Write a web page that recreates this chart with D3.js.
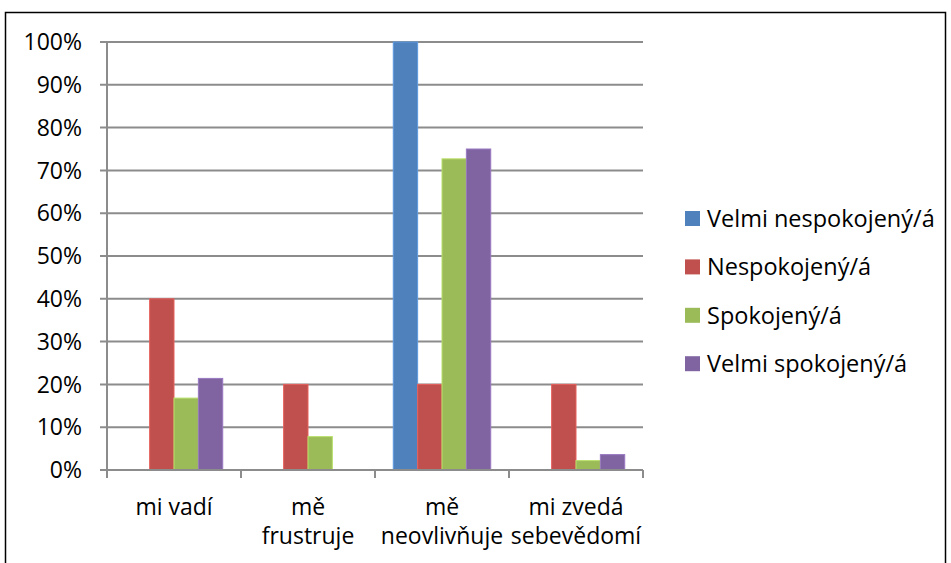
<!DOCTYPE html>
<html>
<head>
<meta charset="utf-8">
<script src="https://cdn.jsdelivr.net/npm/d3@7"></script>
<style>
  html, body { margin: 0; padding: 0; background: #fff; }
  svg { display: block; }
  text { font-family: "Open Sans", Lato, sans-serif; fill: #000; }
</style>
</head>
<body>
<svg id="chart" width="951" height="563"></svg>
<script>
// Answers per category, share of respondents in each satisfaction group
const categories = [["mi vadí"], ["mě", "frustruje"], ["mě", "neovlivňuje"], ["mi zvedá", "sebevědomí"]];
const seriesNames = ["Velmi nespokojený/á", "Nespokojený/á", "Spokojený/á", "Velmi spokojený/á"];
const seriesColors = ["#4F81BD", "#C0504D", "#9BBB59", "#8064A2"];
const velmiNespokojeny = [0, 0, 100, 0];
const nespokojeny = [40, 20, 20, 20];
const spokojeny = [16.8, 7.8, 72.7, 2.2];
const velmiSpokojeny = [21.4, 0, 75, 3.6];
const yTicks = [0, 10, 20, 30, 40, 50, 60, 70, 80, 90, 100];

const series = [velmiNespokojeny, nespokojeny, spokojeny, velmiSpokojeny];

const svg = d3.select("#chart");
const plot = { left: 107, right: 643, top: 42, bottom: 470 };
const fontSize = "23px";
const legendFontSize = "23.5px";

// outer frame
svg.append("rect")
  .attr("x", 5.5).attr("y", 12.5)
  .attr("width", 940).attr("height", 560)
  .attr("fill", "none").attr("stroke", "#000").attr("stroke-width", 1.5);

const x0 = d3.scaleBand()
  .domain(d3.range(categories.length))
  .range([plot.left, plot.right])
  .paddingInner(0).paddingOuter(0);

// Excel-style gap width of 150% => bars occupy 4/5.5 of a category slot
const barW = x0.bandwidth() / 5.5;
const x1 = d3.scaleBand()
  .domain(d3.range(series.length))
  .range([0.75 * barW, 4.75 * barW]);

const y = d3.scaleLinear().domain([0, 100]).range([plot.bottom, plot.top]);

// horizontal gridlines
svg.append("g")
  .selectAll("line")
  .data(yTicks)
  .join("line")
  .attr("x1", plot.left - 7).attr("x2", plot.right)
  .attr("y1", d => y(d)).attr("y2", d => y(d))
  .attr("stroke", "#8c8c8c").attr("stroke-width", 2);

// y axis labels
svg.append("g")
  .selectAll("text")
  .data(yTicks)
  .join("text")
  .attr("x", 82)
  .attr("y", d => y(d))
  .attr("dy", "0.36em")
  .attr("text-anchor", "end")
  .style("font-size", fontSize)
  .text(d => d + "%");

// bars
const groups = svg.append("g")
  .selectAll("g")
  .data(categories.map((c, i) => i))
  .join("g")
  .attr("transform", i => `translate(${x0(i)},0)`);

groups.selectAll("rect")
  .data(i => series.map((s, k) => ({ k, v: s[i] })).filter(d => d.v > 0))
  .join("rect")
  .attr("x", d => x1(d.k))
  .attr("width", x1.bandwidth())
  .attr("y", d => y(d.v))
  .attr("height", d => y(0) - y(d.v))
  .attr("fill", d => seriesColors[d.k])
  .attr("stroke", d => d3.color(seriesColors[d.k]).brighter(0.5))
  .attr("stroke-width", 1);

// axes lines
svg.append("line")
  .attr("x1", plot.left).attr("x2", plot.left)
  .attr("y1", plot.top).attr("y2", plot.bottom)
  .attr("stroke", "#8c8c8c").attr("stroke-width", 2);
svg.append("line")
  .attr("x1", plot.left).attr("x2", plot.right)
  .attr("y1", plot.bottom).attr("y2", plot.bottom)
  .attr("stroke", "#8c8c8c").attr("stroke-width", 2);

// category tick marks
svg.append("g")
  .selectAll("line")
  .data(d3.range(categories.length + 1))
  .join("line")
  .attr("x1", i => plot.left + i * x0.bandwidth())
  .attr("x2", i => plot.left + i * x0.bandwidth())
  .attr("y1", plot.bottom).attr("y2", plot.bottom + 8)
  .attr("stroke", "#8c8c8c").attr("stroke-width", 2);

// category labels
svg.append("g")
  .selectAll("text")
  .data(categories)
  .join("text")
  .attr("text-anchor", "middle")
  .attr("transform", (c, i) => `translate(${x0(i) + x0.bandwidth() / 2},515)`)
  .style("font-size", fontSize)
  .selectAll("tspan")
  .data(c => c)
  .join("tspan")
  .attr("x", 0)
  .attr("y", (d, j) => j * 29)
  .text(d => d);

// legend
const legend = svg.append("g")
  .selectAll("g")
  .data(seriesNames)
  .join("g")
  .attr("transform", (d, i) => `translate(685,${218.5 + i * 48.4})`);
legend.append("rect")
  .attr("x", 0).attr("y", -7.5)
  .attr("width", 15).attr("height", 15)
  .attr("fill", (d, i) => seriesColors[i]);
legend.append("text")
  .attr("x", 22).attr("y", 0).attr("dy", "0.36em")
  .style("font-size", legendFontSize)
  .text(d => d);
</script>
</body>
</html>
